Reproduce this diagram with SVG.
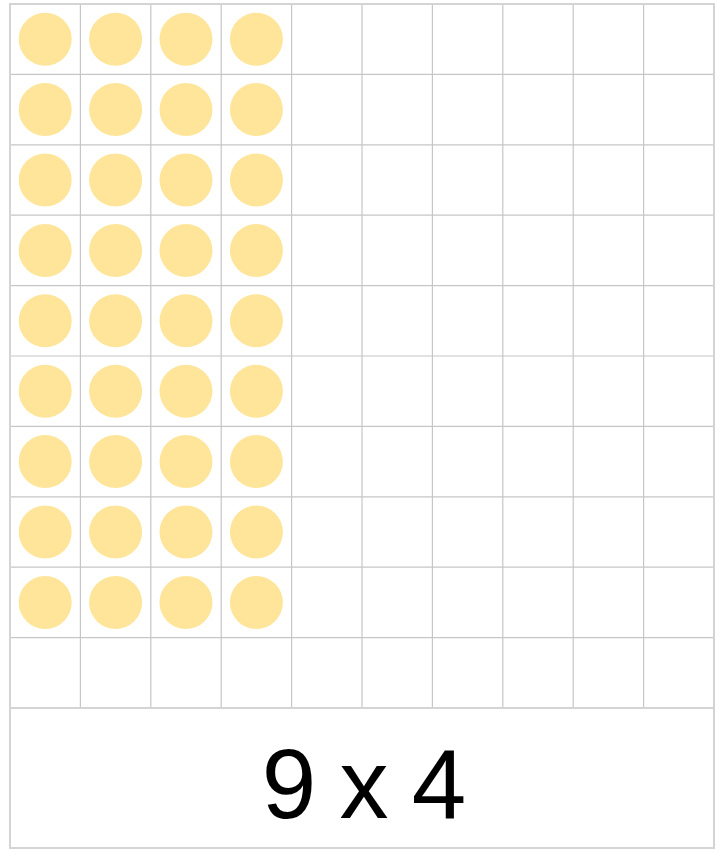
<svg xmlns="http://www.w3.org/2000/svg" width="726" height="850" viewBox="0 0 726 850">
<style>
.inner{stroke:#c6c6c6;stroke-width:1.2;fill:none}
.outer{stroke:#d4d4d4;stroke-width:2;fill:none}
.dot{fill:#ffe599}
.lbl{font-family:"Liberation Sans",Arial,sans-serif;font-size:98px;fill:#000;text-anchor:middle}
</style>
<rect width="726" height="850" fill="#ffffff"/>
<g id="grid">
<path class="inner" d="M80.4 4V708M150.8 4V708M221.2 4V708M291.6 4V708M362 4V708M432.4 4V708M502.8 4V708M573.2 4V708M643.6 4V708M10 74.4H714M10 144.8H714M10 215.2H714M10 285.6H714M10 356H714M10 426.4H714M10 496.8H714M10 567.2H714M10 637.6H714"/>
<rect class="outer" x="10" y="4" width="704" height="704"/>
</g>
<g id="dots">
<g id="row1"><circle class="dot" cx="45.2" cy="39.2" r="26.5"/><circle class="dot" cx="115.6" cy="39.2" r="26.5"/><circle class="dot" cx="186" cy="39.2" r="26.5"/><circle class="dot" cx="256.4" cy="39.2" r="26.5"/></g>
<g id="row2"><circle class="dot" cx="45.2" cy="109.6" r="26.5"/><circle class="dot" cx="115.6" cy="109.6" r="26.5"/><circle class="dot" cx="186" cy="109.6" r="26.5"/><circle class="dot" cx="256.4" cy="109.6" r="26.5"/></g>
<g id="row3"><circle class="dot" cx="45.2" cy="180" r="26.5"/><circle class="dot" cx="115.6" cy="180" r="26.5"/><circle class="dot" cx="186" cy="180" r="26.5"/><circle class="dot" cx="256.4" cy="180" r="26.5"/></g>
<g id="row4"><circle class="dot" cx="45.2" cy="250.4" r="26.5"/><circle class="dot" cx="115.6" cy="250.4" r="26.5"/><circle class="dot" cx="186" cy="250.4" r="26.5"/><circle class="dot" cx="256.4" cy="250.4" r="26.5"/></g>
<g id="row5"><circle class="dot" cx="45.2" cy="320.8" r="26.5"/><circle class="dot" cx="115.6" cy="320.8" r="26.5"/><circle class="dot" cx="186" cy="320.8" r="26.5"/><circle class="dot" cx="256.4" cy="320.8" r="26.5"/></g>
<g id="row6"><circle class="dot" cx="45.2" cy="391.2" r="26.5"/><circle class="dot" cx="115.6" cy="391.2" r="26.5"/><circle class="dot" cx="186" cy="391.2" r="26.5"/><circle class="dot" cx="256.4" cy="391.2" r="26.5"/></g>
<g id="row7"><circle class="dot" cx="45.2" cy="461.6" r="26.5"/><circle class="dot" cx="115.6" cy="461.6" r="26.5"/><circle class="dot" cx="186" cy="461.6" r="26.5"/><circle class="dot" cx="256.4" cy="461.6" r="26.5"/></g>
<g id="row8"><circle class="dot" cx="45.2" cy="532" r="26.5"/><circle class="dot" cx="115.6" cy="532" r="26.5"/><circle class="dot" cx="186" cy="532" r="26.5"/><circle class="dot" cx="256.4" cy="532" r="26.5"/></g>
<g id="row9"><circle class="dot" cx="45.2" cy="602.4" r="26.5"/><circle class="dot" cx="115.6" cy="602.4" r="26.5"/><circle class="dot" cx="186" cy="602.4" r="26.5"/><circle class="dot" cx="256.4" cy="602.4" r="26.5"/></g>
</g>
<g id="label">
<rect class="outer" x="10" y="708" width="704" height="140"/>
<text class="lbl" x="363" y="818" letter-spacing="-2">9 x 4</text>
</g>
</svg>
